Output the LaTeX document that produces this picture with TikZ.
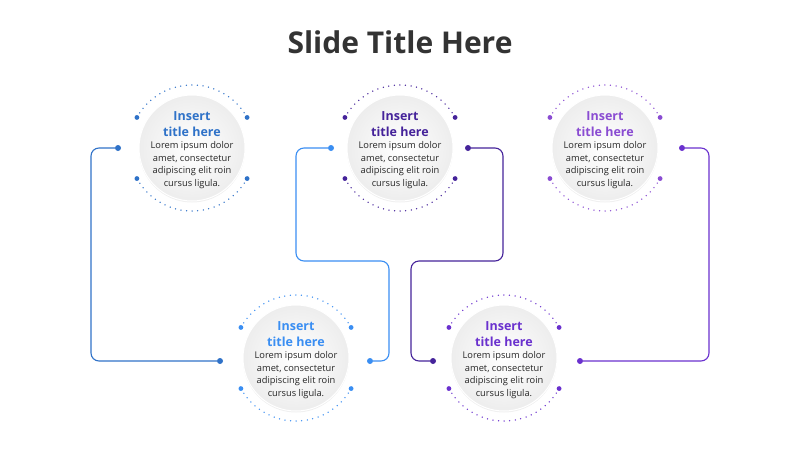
\documentclass[tikz,border=0pt]{standalone}
\usepackage{fontspec}
\setmainfont{Open Sans}
\usetikzlibrary{shadows}
\definecolor{cola}{HTML}{2F72C8}
\definecolor{colb}{HTML}{45239A}
\definecolor{colc}{HTML}{8A4CD2}
\definecolor{cold}{HTML}{3A8EF2}
\definecolor{cole}{HTML}{6A31CE}
\tikzset{
  disc/.style={circle,minimum size=106pt,inner sep=0pt,
    inner color=white,outer color=black!7,draw=white,line width=1pt,
    drop shadow={opacity=0.12,shadow xshift=0pt,shadow yshift=-1.5pt}},
  ring/.style={line width=1.5pt,line cap=round,dash pattern=on 0pt off 5.6pt},
  pin/.style={circle,fill,inner sep=0pt,minimum size=6pt},
  link/.style={line width=1.1pt,rounded corners=8pt}
}
\newcommand{\stage}[3]{%
  \node[disc] (#1) at (#2) {};
  \node[font=\bfseries\fontsize{12.5}{16}\selectfont,text=#3,align=center]
    at ([yshift=24pt]#1.center) {Insert\\title here};
  \node[font=\fontsize{9.3}{12.6}\selectfont,text=black!85,align=center]
    at ([yshift=-17pt]#1.center) {Lorem ipsum dolor\\amet, consectetur\\adipiscing elit roin\\cursus ligula.};
  \draw[ring,#3] ([shift={(29:63pt)}]#1.center) arc[start angle=29,end angle=151,radius=63pt];
  \draw[ring,#3] ([shift={(209:63pt)}]#1.center) arc[start angle=209,end angle=331,radius=63pt];
  \foreach \ang in {29,151,209,331}
    \fill[#3] ([shift={(\ang:63pt)}]#1.center) circle (2.4pt);
}
\begin{document}
\begin{tikzpicture}[x=1pt,y=-1pt]
  \useasboundingbox (0,0) rectangle (800,450);
  \node[font=\bfseries\fontsize{30}{34}\selectfont,text=black!80] (title) at (400,42) {Slide Title Here};

  \stage{one}{192,148}{cola}
  \stage{two}{400,148}{colb}
  \stage{three}{605,148}{colc}
  \stage{four}{296,358}{cold}
  \stage{five}{504,358}{cole}

  % connectors
  \node[pin,cola] (pa) at (118,148) {};
  \node[pin,cola] (pb) at (220,361) {};
  \draw[link,cola] (pa) -- (91,148) -- (91,361) -- (pb);

  \node[pin,cold] (pc) at (331,148) {};
  \node[pin,cold] (pd) at (370,361) {};
  \draw[link,cold] (pc) -- (296,148) -- (296,261) -- (389,261) -- (389,361) -- (pd);

  \node[pin,colb] (pe) at (468,148) {};
  \node[pin,colb] (pf) at (433,361) {};
  \draw[link,colb] (pe) -- (503,148) -- (503,261) -- (411,261) -- (411,361) -- (pf);

  \node[pin,cole] (pg) at (682,148) {};
  \node[pin,cole] (ph) at (580,361) {};
  \draw[link,cole] (pg) -- (709,148) -- (709,361) -- (ph);
\end{tikzpicture}
\end{document}
